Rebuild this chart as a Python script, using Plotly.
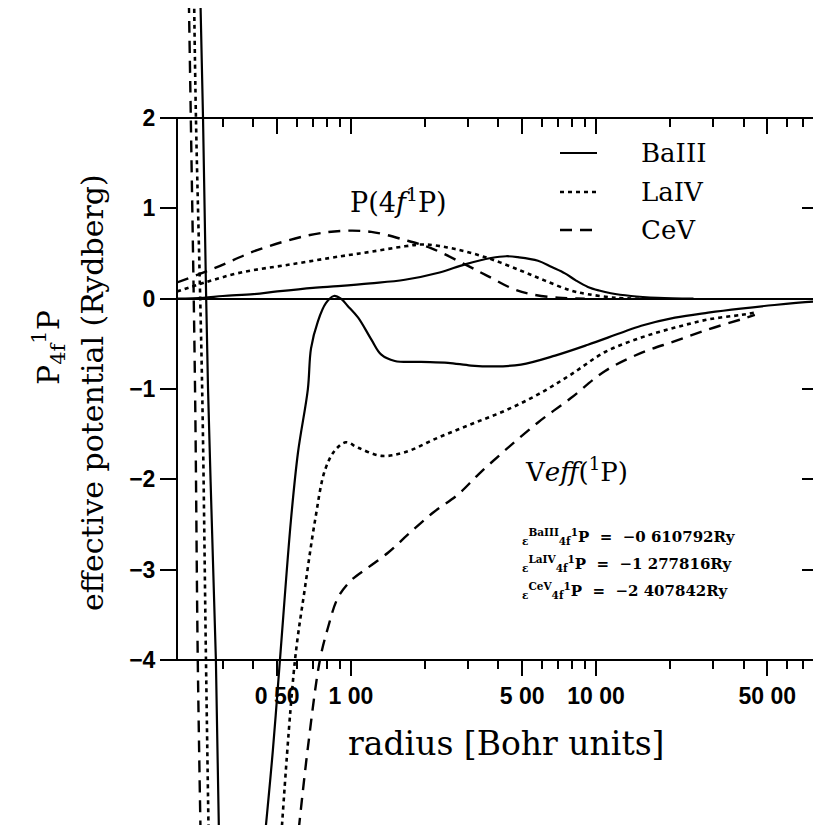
import plotly.graph_objects as go

# ---------------- data ----------------
series_names = ["BaIII", "LaIV", "CeV"]

# radial functions P(4f 1P)
r_P_ba = [0.195, 0.25, 0.3, 0.4, 0.5, 0.7, 0.885, 1.2, 1.66, 2.3, 2.92, 3.73, 4.3, 4.8,
          5.8, 6.6, 7.47, 8.3, 9.27, 10.3, 11.5, 13.9, 17.9, 25]
P_ba = [0.0, 0.01, 0.03, 0.05, 0.08, 0.12, 0.14, 0.17, 0.21, 0.29, 0.38, 0.45, 0.47, 0.46,
        0.42, 0.35, 0.28, 0.20, 0.13, 0.09, 0.06, 0.03, 0.01, 0.0]

r_P_la = [0.195, 0.254, 0.356, 0.569, 0.91, 1.21, 1.66, 2.0, 2.66, 3.62, 4.94, 6.19, 7.9,
          9.27, 12, 15]
P_la = [0.08, 0.18, 0.29, 0.38, 0.47, 0.52, 0.58, 0.60, 0.55, 0.45, 0.31, 0.20, 0.09,
        0.05, 0.01, 0.0]

r_P_ce = [0.195, 0.279, 0.417, 0.667, 0.91, 1.21, 1.66, 2.12, 2.92, 3.62, 4.67, 5.43, 7.0, 9.0]
P_ce = [0.18, 0.34, 0.54, 0.70, 0.75, 0.74, 0.65, 0.56, 0.38, 0.25, 0.10, 0.05, 0.01, 0.0]

# effective potentials Veff(1P)  (None = branch runs off the bottom of the page)
r_V_ba = [0.243, 0.249, 0.261, 0.281, 0.290, None,
          0.44, 0.48, 0.513, 0.569, 0.608, 0.667, 0.687, 0.733, 0.79, 0.852, 0.91, 0.97,
          1.07, 1.21, 1.33, 1.51, 1.93, 2.49, 3.09, 3.87, 4.94, 6.81, 9.27, 12.6, 15.3,
          21.0, 28.7, 39.0, 53.5, 80.5, 90]
V_ba = [3.3, 2.0, -1.0, -4.0, -6.1, None,
        -6.1, -5.0, -4.0, -2.45, -1.7, -1.0, -0.55, -0.25, -0.05, 0.03, 0.0, -0.08,
        -0.21, -0.45, -0.62, -0.69, -0.70, -0.71, -0.74, -0.75, -0.73, -0.63, -0.51, -0.38, -0.30,
        -0.21, -0.155, -0.11, -0.07, -0.03, -0.025]

r_V_la = [0.229, 0.233, 0.247, 0.256, 0.263, None,
          0.515, 0.591, 0.649, 0.713, 0.783, 0.86, 0.954, 1.07, 1.33, 1.66, 2.26, 3.09,
          4.25, 5.8, 7.9, 10.9, 15.3, 21.0, 28.7, 39.0, 44.5]
V_la = [3.3, 2.0, -1.0, -4.0, -6.1, None,
        -6.1, -4.0, -3.2, -2.46, -1.90, -1.68, -1.59, -1.65, -1.74, -1.70, -1.54, -1.39,
        -1.24, -1.06, -0.84, -0.59, -0.43, -0.32, -0.23, -0.18, -0.155]

r_V_ce = [0.218, 0.222, 0.231, 0.237, 0.244, None,
          0.60, 0.667, 0.747, 0.806, 0.885, 1.0, 1.17, 1.42, 1.71, 2.16, 2.73, 3.30,
          4.25, 5.8, 7.9, 10.9, 15.3, 21.0, 28.7, 39.0, 44.5]
V_ce = [3.3, 2.0, -1.0, -4.0, -6.1, None,
        -6.1, -4.97, -4.0, -3.64, -3.31, -3.12, -2.98, -2.81, -2.61, -2.37, -2.17, -1.95,
        -1.68, -1.37, -1.10, -0.80, -0.60, -0.47, -0.34, -0.23, -0.18]

x_major = [0.5, 1, 5, 10, 50]
x_major_text = ["0 50", "1 00", "5 00", "10 00", "50 00"]
x_minor = [0.3, 0.4, 0.6, 0.7, 0.8, 0.9, 2, 3, 4, 6, 7, 8, 9, 20, 30, 40, 60, 70, 80]
y_ticks = [-4, -3, -2, -1, 0, 1, 2]
y_ticktext = ["\u22124", "\u22123", "\u22122", "\u22121", "0", "1", "2"]

energy_lines = [
    "<sub>\u03b5</sub><sup>BaIII</sup><sub>4f</sub><sup>1</sup>P  =  \u22120 610792Ry",
    "<sub>\u03b5</sub><sup>LaIV</sup><sub>4f</sub><sup>1</sup>P  =  \u22121 277816Ry",
    "<sub>\u03b5</sub><sup>CeV</sup><sub>4f</sub><sup>1</sup>P  =  \u22122 407842Ry",
]

# ---------------- geometry helpers ----------------
W, H = 821, 825
ML = 169
X_RANGE = [-0.710, 1.951]
Y_RANGE = [-5.915, 3.218]


def px_x(px):
    return (px - ML) / (W - ML)


def px_y(py):
    return (H - py) / H


SERIF = "DejaVu Serif"
SANS = "Liberation Sans"

styles = {
    "BaIII": dict(color="black", width=2.2, dash="solid"),
    "LaIV": dict(color="black", width=2.6, dash="4px,4px"),
    "CeV": dict(color="black", width=2.4, dash="12px,8px"),
}

fig = go.Figure()
P_data = [(r_P_ba, P_ba), (r_P_la, P_la), (r_P_ce, P_ce)]
V_data = [(r_V_ba, V_ba), (r_V_la, V_la), (r_V_ce, V_ce)]
for name, (rp, pp), (rv, vv) in zip(series_names, P_data, V_data):
    fig.add_trace(go.Scatter(x=rp, y=pp, mode="lines", line=styles[name], name=name,
                             showlegend=False, line_shape="spline", hoverinfo="skip"))
    fig.add_trace(go.Scatter(x=rv, y=vv, mode="lines", line=styles[name], name=name,
                             showlegend=False, connectgaps=False, line_shape="spline",
                             hoverinfo="skip"))

# dummy trace to carry the mirrored (top / right) axes
fig.add_trace(go.Scatter(x=[None], y=[None], xaxis="x2", yaxis="y2", showlegend=False,
                         hoverinfo="skip"))

tickfont = dict(family=SANS, size=23, color="black", weight="bold")

fig.update_layout(
    width=W, height=H,
    margin=dict(l=ML, r=0, t=0, b=0),
    paper_bgcolor="white", plot_bgcolor="white",
    showlegend=False,
    xaxis=dict(type="log", range=X_RANGE, domain=[0, 1], anchor="free",
               position=px_y(652), side="bottom", showline=False, showgrid=False,
               zeroline=False, ticks="outside", ticklen=15, tickwidth=2, tickcolor="black",
               tickmode="array", tickvals=x_major, ticktext=x_major_text, tickfont=tickfont,
               minor=dict(tickmode="array", tickvals=x_minor, ticks="outside", ticklen=8,
                          tickwidth=2, tickcolor="black", showgrid=False)),
    yaxis=dict(range=Y_RANGE, domain=[0, 1], showline=False, showgrid=False,
               zeroline=True, zerolinecolor="black", zerolinewidth=2,
               ticks="outside", ticklen=16, tickwidth=2, tickcolor="black",
               tickmode="array", tickvals=y_ticks, ticktext=y_ticktext, tickfont=tickfont),
    xaxis2=dict(type="log", range=X_RANGE, overlaying="x", anchor="free",
                position=px_y(110), side="top", showline=False, showgrid=False,
                zeroline=False, ticks="inside", ticklen=15, tickwidth=2, tickcolor="black",
                tickmode="array", tickvals=x_major, showticklabels=False,
                minor=dict(tickmode="array", tickvals=x_minor, ticks="inside", ticklen=8,
                           tickwidth=2, tickcolor="black", showgrid=False)),
    yaxis2=dict(range=Y_RANGE, overlaying="y", anchor="free", position=px_x(809),
                side="right", showline=False, showgrid=False, zeroline=False,
                ticks="inside", ticklen=15, tickwidth=2, tickcolor="black",
                tickmode="array", tickvals=y_ticks, showticklabels=False),
)

# frame
fig.add_shape(type="rect", xref="paper", yref="y", x0=0, x1=px_x(809), y0=-4, y1=2,
              line=dict(color="black", width=2), fillcolor="rgba(0,0,0,0)", layer="above")

# legend (key lines + names)
legend_rows = [145, 184, 222]
for name, row in zip(series_names, legend_rows):
    st = styles[name]
    fig.add_shape(type="line", xref="paper", yref="paper",
                  x0=px_x(552), x1=px_x(589), y0=px_y(row), y1=px_y(row),
                  line=dict(color="black", width=st["width"], dash=st["dash"]))
    fig.add_annotation(text=name, xref="paper", yref="paper", x=px_x(631), y=px_y(row),
                       xanchor="left", yanchor="middle", showarrow=False,
                       font=dict(family=SERIF, size=26, color="black"))

# texts
fig.add_annotation(text="P(4<i>f</i><sup>1</sup>P)", xref="paper", yref="paper",
                   x=px_x(340), y=px_y(193), xanchor="left", yanchor="middle",
                   showarrow=False, font=dict(family=SERIF, size=27, color="black"))
fig.add_annotation(text="V<i>eff</i>(<sup>1</sup>P)", xref="paper", yref="paper",
                   x=px_x(515), y=px_y(462), xanchor="left", yanchor="middle",
                   showarrow=False, font=dict(family=SERIF, size=26, color="black"))
for i, line in enumerate(energy_lines):
    fig.add_annotation(text=line, xref="paper", yref="paper",
                       x=px_x(512), y=px_y(528 + 27 * i), xanchor="left", yanchor="middle",
                       showarrow=False,
                       font=dict(family=SERIF, size=15, color="black", weight="bold"))

fig.add_annotation(text="radius [Bohr units]", xref="paper", yref="paper",
                   x=px_x(498), y=px_y(735), xanchor="center", yanchor="middle",
                   showarrow=False, font=dict(family=SERIF, size=33, color="black"))
fig.add_annotation(text="P<sub>4f</sub><sup>1</sup>P", xref="paper", yref="paper",
                   x=px_x(40), y=px_y(340), xanchor="center", yanchor="middle",
                   textangle=-90, showarrow=False,
                   font=dict(family=SERIF, size=30, color="black"))
fig.add_annotation(text="effective potential (Rydberg)", xref="paper", yref="paper",
                   x=px_x(84), y=px_y(385), xanchor="center", yanchor="middle",
                   textangle=-90, showarrow=False,
                   font=dict(family=SERIF, size=30, color="black"))

fig.write_html("out.html")
